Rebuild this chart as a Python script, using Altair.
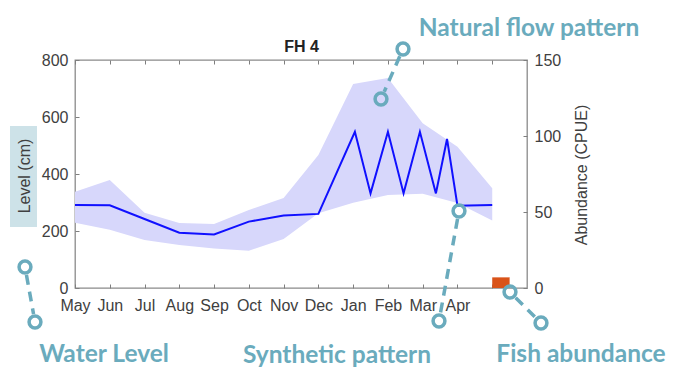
import json
import math
import altair as alt
import pandas as pd

# ---------------- data ----------------
month_labels = ["May", "Jun", "Jul", "Aug", "Sep", "Oct", "Nov", "Dec", "Jan", "Feb", "Mar", "Apr"]

band_pos = [1, 2, 3, 4, 5, 6, 7, 8, 9, 10, 11, 12, 13]
band_upper = [338, 379, 264, 228, 225, 274, 316, 467, 716, 737, 578, 496, 350]
band_lower = [229, 204, 168, 151, 139, 131, 172, 262, 299, 326, 331, 298, 237]

line_pos = [1, 2, 3, 4, 5, 6, 7, 8, 9.05, 9.5, 10.0, 10.45, 10.92, 11.38, 11.7, 12, 13]
line_level = [291, 290, 242, 194, 188, 233, 254, 260, 548, 332, 548, 332, 548, 332, 523, 289, 291]

fish_start = [13.0]
fish_end = [13.5]
fish_cpue = [7]

level_ticks = [0, 200, 400, 600, 800]
cpue_ticks = [0, 50, 100, 150]

chart_title = "FH 4"
left_title = "Level (cm)"
right_title = "Abundance (CPUE)"
annot_texts = ["Natural flow pattern", "Water Level", "Synthetic pattern", "Fish abundance"]

# ---------------- styling ----------------
W, H = 452, 228
X_DOMAIN = [1, 14]
TEAL = "#6aabbd"
AX_GRAY = "#7f7f7f"
LAB = "#404040"
FONT = "Liberation Sans"

band_df = pd.DataFrame({"pos": band_pos, "upper": band_upper, "lower": band_lower})
line_df = pd.DataFrame({"pos": line_pos, "level": line_level})
fish_df = pd.DataFrame({"start": fish_start, "end": fish_end, "cpue": fish_cpue,
                        "base": [0] * len(fish_cpue)})

label_expr = "datum.value <= %d ? %s[datum.value - 1] : ''" % (len(month_labels), json.dumps(month_labels))

x_scale = alt.Scale(domain=X_DOMAIN, nice=False, zero=False)
lev_scale = alt.Scale(domain=[0, 800], nice=False, zero=False)
cpue_scale = alt.Scale(domain=[0, 150], nice=False, zero=False)

common_ax = dict(domain=False, grid=False, title=None, tickSize=4, offset=-4, tickColor=AX_GRAY,
                 tickWidth=1, labelColor=LAB, labelFont=FONT, labelFontSize=16)

x_bottom_axis = alt.Axis(values=list(range(1, 14)), labelExpr=label_expr, labelPadding=9,
                         labelOverlap=False, labelFlush=False, orient="bottom", **common_ax)
x_top_axis = alt.Axis(values=list(range(1, 14)), labels=False, orient="top", **common_ax)
y_left_axis = alt.Axis(values=level_ticks, orient="left", labelPadding=7, **common_ax)
y_right_axis = alt.Axis(values=cpue_ticks, orient="right", labelPadding=7, **common_ax)

band = alt.Chart(band_df).mark_area(color="#d7d7fb", opacity=1).encode(
    x=alt.X("pos:Q", scale=x_scale, axis=x_bottom_axis),
    y=alt.Y("upper:Q", scale=lev_scale, axis=y_left_axis),
    y2="lower:Q",
)
line = alt.Chart(line_df).mark_line(color="#1010ff", strokeWidth=2).encode(
    x=alt.X("pos:Q", scale=x_scale, axis=x_bottom_axis),
    y=alt.Y("level:Q", scale=lev_scale, axis=y_left_axis),
)
level_layer = alt.layer(band, line)

fish = alt.Chart(fish_df).mark_rect(color="#d95319").encode(
    x=alt.X("start:Q", scale=x_scale, axis=x_top_axis),
    x2="end:Q",
    y=alt.Y("cpue:Q", scale=cpue_scale, axis=y_right_axis),
    y2="base:Q",
)

# ---------------- annotations (pixel positions relative to the plot area) ----------------
def px(field):
    return alt.X(field + ":Q", scale=None, axis=None)


def py(field):
    return alt.Y(field + ":Q", scale=None, axis=None)


circle_pairs = [((328, -11), (306, 39)),
                ((-50, 207), (-40, 262)),
                ((384, 151), (364, 261)),
                ((435, 232), (466, 263))]
R = 7
circ_rows, rule_rows = [], []
for (a, b) in circle_pairs:
    circ_rows.append({"cx": a[0], "cy": a[1]})
    circ_rows.append({"cx": b[0], "cy": b[1]})
    dx, dy = b[0] - a[0], b[1] - a[1]
    d = math.hypot(dx, dy)
    ux, uy = dx / d, dy / d
    rule_rows.append({"x1": a[0] + ux * (R + 1), "y1": a[1] + uy * (R + 1),
                      "x2": b[0] - ux * (R + 1), "y2": b[1] - uy * (R + 1)})

rules = alt.Chart(pd.DataFrame(rule_rows)).mark_rule(
    color=TEAL, strokeWidth=3.5, strokeDash=[10, 7], strokeCap="butt").encode(
    x=px("x1"), y=py("y1"), x2="x2:Q", y2="y2:Q")

circles = alt.Chart(pd.DataFrame(circ_rows)).mark_point(
    shape="circle", filled=False, size=140, strokeWidth=3.5, color=TEAL, opacity=1).encode(
    x=px("cx"), y=py("cy"))

annot_df = pd.DataFrame({"tx": [454, 29, 262, 506], "ty": [-24, 302, 303, 302], "label": annot_texts})
annots = alt.Chart(annot_df).mark_text(
    font="Lato", fontWeight="bold", fontSize=24.5, color=TEAL, align="center", baseline="alphabetic").encode(
    x=px("tx"), y=py("ty"), text="label:N")

title_bg = alt.Chart(pd.DataFrame({"a": [-65], "b": [-38], "c": [66], "d": [167]})).mark_rect(
    color="#cde2e8").encode(x=px("a"), x2="b:Q", y=py("c"), y2="d:Q")

side_df = pd.DataFrame({"tx": [-50, 507], "ty": [116, 115], "label": [left_title, right_title]})
side_titles = alt.Chart(side_df).mark_text(
    font=FONT, fontSize=16, color=LAB, angle=270, align="center", baseline="middle").encode(
    x=px("tx"), y=py("ty"), text="label:N")

top_title = alt.Chart(pd.DataFrame({"tx": [226.5], "ty": [-8], "label": [chart_title]})).mark_text(
    font=FONT, fontSize=16, fontWeight="bold", color="#222222", align="center", baseline="alphabetic").encode(
    x=px("tx"), y=py("ty"), text="label:N")

chart = alt.layer(
    level_layer, fish, title_bg, side_titles, top_title, rules, circles, annots
).resolve_scale(x="independent", y="independent").properties(
    width=W, height=H,
    autosize=alt.AutoSizeParams(type="none"),
    padding={"left": 67, "top": 52, "right": 141, "bottom": 85},
).configure_view(stroke="#8a8a8a", strokeWidth=1.3)

chart.save("out.html", embed_options={"renderer": "svg", "actions": False})
